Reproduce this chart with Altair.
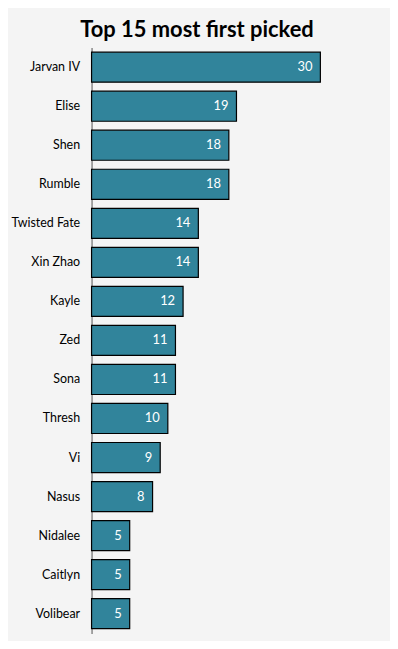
import altair as alt
import pandas as pd

champions = ["Jarvan IV", "Elise", "Shen", "Rumble", "Twisted Fate", "Xin Zhao", "Kayle",
             "Zed", "Sona", "Thresh", "Vi", "Nasus", "Nidalee", "Caitlyn", "Volibear"]
picks = [30, 19, 18, 18, 14, 14, 12, 11, 11, 10, 9, 8, 5, 5, 5]

df = pd.DataFrame({"champion": champions, "picks": picks})

y = alt.Y("champion:N", sort=champions, title=None,
          scale=alt.Scale(paddingInner=0.23, paddingOuter=0.12),
          axis=alt.Axis(ticks=False, domainColor="#888888", domainWidth=1.5,
                        labelFont="Lato", labelFontSize=12.5, labelColor="#000000",
                        labelPadding=12))
x = alt.X("picks:Q", title=None, axis=None,
          scale=alt.Scale(domain=[0, 30], nice=False))

bars = alt.Chart(df).mark_bar(color="#31849B", stroke="#000000", strokeWidth=1.2).encode(x=x, y=y)
labels = alt.Chart(df).mark_text(align="right", dx=-8, color="white", font="Lato",
                                 fontSize=13).encode(x=x, y=y, text="picks:Q")

chart = (bars + labels).properties(
    width=230, height=589,
    title=alt.TitleParams("Top 15 most first picked", font="Lato", fontSize=22,
                          fontWeight="bold", color="#000000", anchor="middle",
                          frame="group", dx=-9, offset=6),
    background="#f4f4f4",
    padding={"left": 2, "top": 9, "right": 69, "bottom": 6},
).configure_view(stroke=None)

chart.save("out.html", embed_options={"renderer": "svg", "actions": False})
